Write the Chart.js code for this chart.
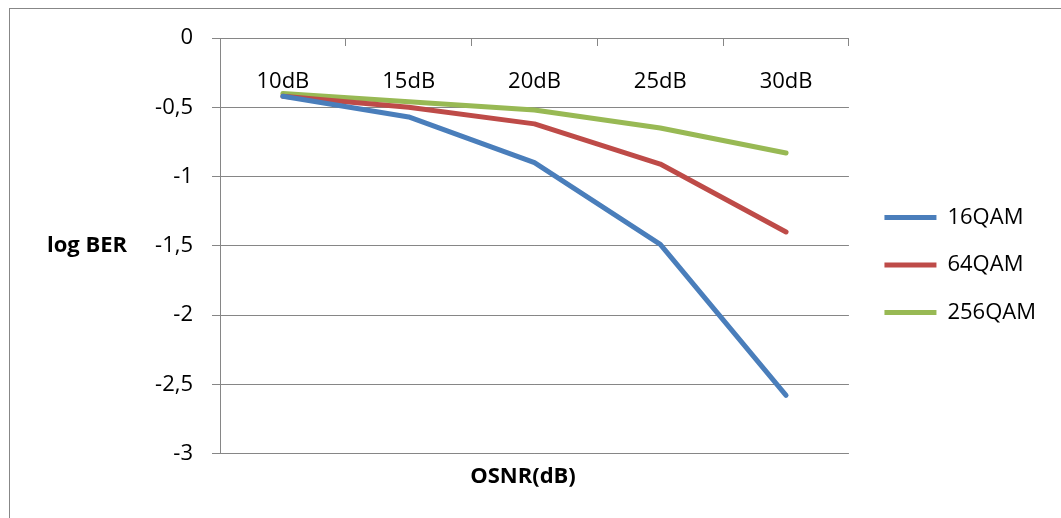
<!DOCTYPE html>
<html>
<head>
<meta charset="utf-8">
<script src="https://cdn.jsdelivr.net/npm/chart.js@4/dist/chart.umd.min.js"></script>
<style>
  html, body { margin: 0; padding: 0; background: #fff; overflow: hidden; }
  #frame { position: absolute; left: 9px; top: 8px; width: 1200px; height: 700px; border: 1px solid #878787; }
  #chart { position: absolute; left: 0; top: 0; }
</style>
</head>
<body>
<div id="frame"></div>
<canvas id="chart" width="1061" height="518"></canvas>
<script>
// Data
const osnrLabels = ['10dB', '15dB', '20dB', '25dB', '30dB'];
const qam16 = [-0.42, -0.57, -0.90, -1.49, -2.58];
const qam64 = [-0.42, -0.50, -0.62, -0.91, -1.40];
const qam256 = [-0.40, -0.46, -0.52, -0.65, -0.83];

const gridGray = '#868686';
const fontFamily = "'Open Sans', sans-serif";

// horizontal y-axis title like Excel
const yTitlePlugin = {
    id: 'yTitle',
    afterDraw(chart) {
        const { ctx, chartArea } = chart;
        ctx.save();
        ctx.font = 'bold 22px ' + fontFamily;
        ctx.fillStyle = '#000';
        ctx.textAlign = 'center';
        ctx.textBaseline = 'middle';
        ctx.fillText('log BER', 87, (chartArea.top + chartArea.bottom) / 2);
        ctx.restore();
    }
};

function makeSet(label, data, color) {
    return {
        label: label,
        data: data,
        borderColor: color,
        backgroundColor: color,
        borderWidth: 5,
        borderCapStyle: 'round',
        borderJoinStyle: 'round',
        pointRadius: 0,
        tension: 0,
        fill: false
    };
}

const ctx = document.getElementById('chart').getContext('2d');
new Chart(ctx, {
    type: 'line',
    data: {
        labels: osnrLabels,
        datasets: [
            makeSet('16QAM', qam16, '#4A7EBB'),
            makeSet('64QAM', qam64, '#BE4B48'),
            makeSet('256QAM', qam256, '#98B954')
        ]
    },
    options: {
        responsive: false,
        animation: false,
        layout: { padding: { top: 38, left: 0, right: 15, bottom: 26 } },
        font: { family: fontFamily, size: 22 },
        scales: {
            x: {
                type: 'category',
                position: { y: 0 },
                offset: true,
                grid: { offset: true, drawOnChartArea: false, drawTicks: true, tickLength: 7, color: gridGray },
                border: { display: true, color: gridGray },
                ticks: { color: '#000', padding: 24, font: { family: fontFamily, size: 22 }, maxRotation: 0 }
            },
            y: {
                min: -3,
                max: 0,
                afterFit: (s) => { s.width = 220; },
                grid: { color: gridGray, tickLength: 8 },
                border: { color: gridGray },
                ticks: {
                    stepSize: 0.5,
                    padding: 19,
                    color: '#000',
                    font: { family: fontFamily, size: 22 },
                    callback: (v) => String(v).replace('.', ',')
                }
            },
            // empty spacer between plot area and legend
            gap: {
                type: 'linear',
                position: 'right',
                display: true,
                afterFit: (s) => { s.width = 10; },
                grid: { display: false },
                border: { display: false },
                ticks: { display: false }
            }
        },
        plugins: {
            legend: {
                position: 'right',
                maxWidth: 400,
                labels: {
                    usePointStyle: true,
                    pointStyle: 'line',
                    pointStyleWidth: 52,
                    padding: 25.5,
                    color: '#000',
                    font: { family: fontFamily, size: 22 }
                }
            },
            title: {
                display: true,
                position: 'bottom',
                text: 'OSNR(dB)',
                color: '#000',
                font: { family: fontFamily, size: 22, weight: 'bold' },
                padding: { top: 10, bottom: 2 }
            },
            tooltip: { enabled: false }
        }
    },
    plugins: [yTitlePlugin]
});
</script>
</body>
</html>
